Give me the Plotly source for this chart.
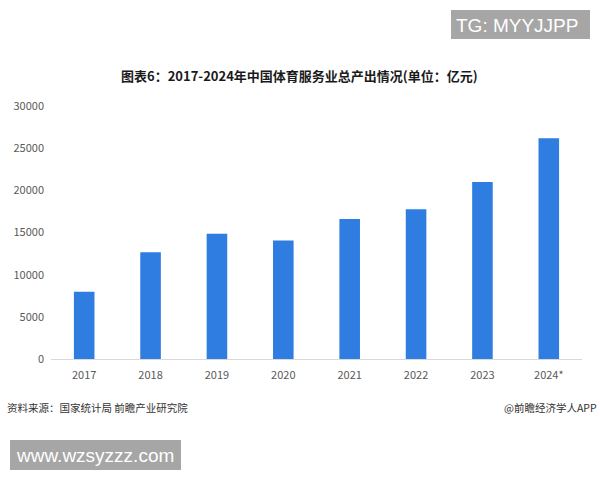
import plotly.graph_objects as go

years = ["2017", "2018", "2019", "2020", "2021", "2022", "2023", "2024*"]
output_values = [7970, 12670, 14840, 14050, 16600, 17770, 21000, 26180]
y_ticks = [0, 5000, 10000, 15000, 20000, 25000, 30000]
y_tick_labels = ["0", "5000", "10000", "15000", "20000", "25000", "30000"]

title_text = "图表6：2017-2024年中国体育服务业总产出情况(单位：亿元)"
source_text = "资料来源：国家统计局 前瞻产业研究院"
credit_text = "@前瞻经济学人APP"
tg_text = "TG: MYYJJPP"
site_text = "www.wzsyzzz.com"

font_cjk = "Noto Sans CJK SC, Noto Sans, sans-serif"

# plot area in pixels
left, right, top, bottom = 51, 582, 106, 359
w, h = right - left, bottom - top


def px(pix):
    return (pix - left) / w


def py(pix):
    return (bottom - pix) / h


fig = go.Figure(go.Bar(
    x=years, y=output_values,
    marker=dict(color="#2f7de1", line=dict(width=0)),
    width=0.31,
))

fig.update_layout(
    width=600, height=480,
    paper_bgcolor="white", plot_bgcolor="white",
    margin=dict(l=left, r=600 - right, t=top, b=480 - bottom, autoexpand=False),
    showlegend=False,
    font=dict(family=font_cjk, size=11, color="#595959"),
    xaxis=dict(
        showgrid=False, showline=True, linecolor="#d9d9d9", linewidth=1,
        ticks="", tickfont=dict(size=11, color="#595959"), automargin=False,
        ticklabelstandoff=6,
    ),
    yaxis=dict(
        range=[0, 30000], tickvals=y_ticks, ticktext=y_tick_labels,
        showgrid=False, zeroline=False, automargin=False,
        showline=False, ticks="", tickfont=dict(size=11, color="#595959"),
        ticklabelstandoff=6,
    ),
    shapes=[
        dict(type="rect", xref="paper", yref="paper",
             x0=px(451), x1=px(590), y0=py(39), y1=py(10),
             fillcolor="#a6a6a6", line=dict(width=0), layer="above"),
        dict(type="rect", xref="paper", yref="paper",
             x0=px(10), x1=px(181), y0=py(470), y1=py(440),
             fillcolor="#a6a6a6", line=dict(width=0), layer="above"),
    ],
)

fig.add_annotation(text="<b>" + title_text + "</b>", xref="paper", yref="paper",
                   x=px(299), y=py(75), xanchor="center", yanchor="middle",
                   showarrow=False, font=dict(size=13, color="#1a1a1a", family=font_cjk))
fig.add_annotation(text=source_text, xref="paper", yref="paper",
                   x=px(5), y=py(407), xanchor="left", yanchor="middle",
                   showarrow=False, font=dict(size=10.5, color="#333333", family=font_cjk))
fig.add_annotation(text=credit_text, xref="paper", yref="paper",
                   x=px(599), y=py(407), xanchor="right", yanchor="middle",
                   showarrow=False, font=dict(size=10.5, color="#333333", family=font_cjk))
fig.add_annotation(text=tg_text, xref="paper", yref="paper",
                   x=px(517), y=py(25), xanchor="center", yanchor="middle",
                   showarrow=False, font=dict(size=19, color="white", family="Liberation Sans, Arial, sans-serif"))
fig.add_annotation(text=site_text, xref="paper", yref="paper",
                   x=px(95), y=py(455), xanchor="center", yanchor="middle",
                   showarrow=False, font=dict(size=19, color="white", family="Liberation Sans, Arial, sans-serif"))

fig.write_html("out.html", config={"displayModeBar": False},
               post_script="document.body.style.margin='0';")
